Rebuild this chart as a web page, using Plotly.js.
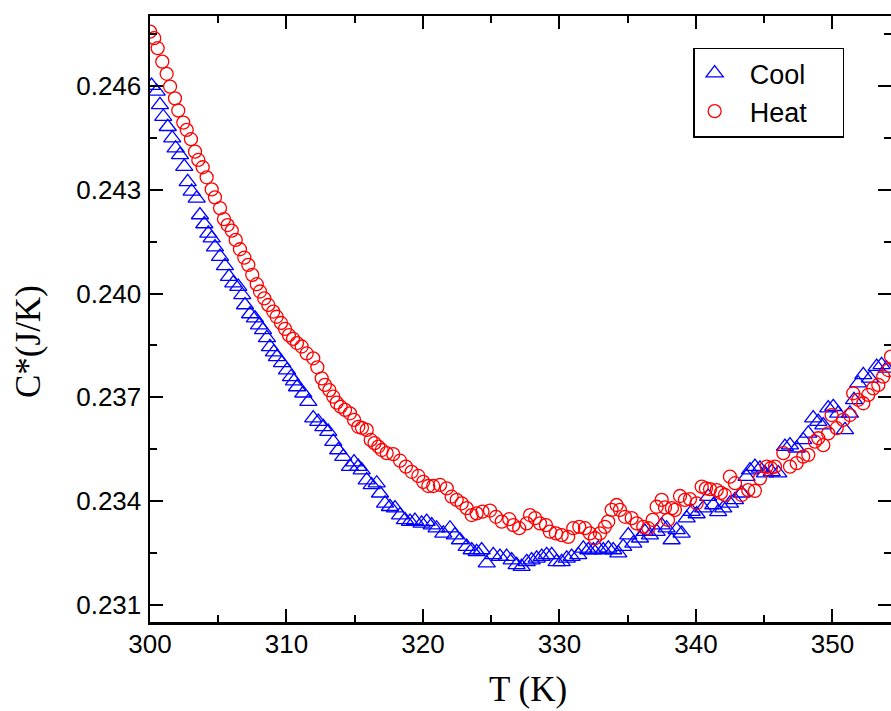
<!DOCTYPE html>
<html>
<head>
<meta charset="utf-8">
<script src="https://cdn.plot.ly/plotly-3.0.1.min.js"></script>
<style>html,body{margin:0;padding:0;background:#fff;}#chart{width:891px;height:711px;}</style>
</head>
<body>
<div id="chart"></div>
<script>
const coolT = [300.12,300.49,300.73,300.97,301.30,301.63,301.88,302.20,302.51,302.76,303.05,303.42,303.66,303.98,304.27,304.52,304.76,305.13,305.49,305.79,306.10,306.47,306.76,306.96,307.33,307.69,307.99,308.28,308.57,308.79,309.08,309.30,309.67,310.04,310.33,310.55,310.77,311.23,311.60,311.96,312.33,312.70,313.06,313.43,313.79,314.16,314.65,314.95,315.26,315.51,315.88,316.24,316.61,316.85,317.22,317.58,317.95,318.32,318.68,319.05,319.41,319.90,320.27,320.64,321.00,321.49,321.98,322.34,322.71,323.20,323.57,323.93,324.30,324.67,325.15,325.64,326.13,326.50,326.86,327.23,327.60,327.96,328.33,328.70,329.06,329.43,329.79,330.16,330.53,330.89,331.38,331.75,332.11,332.48,332.84,333.21,333.58,333.94,334.31,334.67,335.04,335.41,335.90,336.26,336.63,337.12,337.49,337.85,338.22,338.59,338.95,339.32,339.69,340.05,340.53,340.90,341.27,341.63,342.00,342.49,342.86,343.35,343.71,343.96,344.32,344.69,345.05,345.55,346.03,346.52,346.89,347.38,347.86,348.23,348.59,348.96,349.33,349.69,350.06,350.42,350.92,351.28,351.58,351.89,352.26,352.75,353.24,353.60,353.97];
const coolC = [0.24601,0.24584,0.24545,0.24511,0.24482,0.24449,0.24420,0.24401,0.24367,0.24323,
0.24295,0.24275,0.24227,0.24201,0.24174,0.24160,0.24134,0.24107,0.24080,0.24049,
0.24030,0.24020,0.23996,0.23967,0.23941,0.23929,0.23909,0.23895,0.23872,0.23846,
0.23831,0.23817,0.23800,0.23779,0.23759,0.23747,0.23730,0.23712,0.23688,0.23640,
0.23630,0.23615,0.23601,0.23572,0.23548,0.23529,0.23500,0.23513,0.23500,0.23490,
0.23461,0.23447,0.23452,0.23423,0.23394,0.23384,0.23380,0.23360,0.23346,0.23341,
0.23344,0.23336,0.23341,0.23331,0.23322,0.23307,0.23322,0.23302,0.23288,0.23269,
0.23259,0.23254,0.23259,0.23221,0.23245,0.23240,0.23240,0.23230,0.23216,0.23211,
0.23225,0.23230,0.23235,0.23240,0.23245,0.23245,0.23225,0.23225,0.23235,0.23240,
0.23245,0.23264,0.23259,0.23259,0.23264,0.23259,0.23264,0.23259,0.23250,0.23269,
0.23302,0.23278,0.23293,0.23312,0.23302,0.23312,0.23331,0.23322,0.23288,0.23317,
0.23307,0.23351,0.23370,0.23363,0.23380,0.23413,0.23389,0.23369,0.23380,0.23394,
0.23404,0.23423,0.23471,0.23490,0.23500,0.23495,0.23481,0.23485,0.23481,0.23558,
0.23562,0.23553,0.23577,0.23596,0.23640,0.23630,0.23620,0.23669,0.23673,0.23654,
0.23606,0.23654,0.23693,0.23741,0.23765,0.23755,0.23789,0.23794,0.23784];

const heatT = [300.00,300.31,300.56,300.90,301.22,301.47,301.83,302.07,302.44,302.69,303.00,303.30,303.54,303.86,304.15,304.52,304.76,305.13,305.42,305.69,305.99,306.28,306.59,306.91,307.20,307.49,307.82,308.06,308.37,308.67,309.03,309.28,309.60,309.89,310.18,310.48,310.77,311.11,311.48,311.96,312.26,312.58,312.82,313.14,313.43,313.68,313.97,314.29,314.65,314.95,315.26,315.53,315.88,316.17,316.45,316.73,316.98,317.34,317.82,318.32,318.75,319.17,319.66,320.02,320.39,320.75,321.25,321.74,322.10,322.47,322.84,323.20,323.57,323.93,324.36,324.91,325.35,325.77,326.32,326.62,327.05,327.60,327.84,328.21,328.57,329.01,329.30,329.74,330.16,330.64,331.01,331.45,331.87,332.23,332.60,332.97,333.33,333.57,333.82,334.19,334.43,334.80,335.29,335.66,336.14,336.51,336.83,337.12,337.49,337.73,337.95,338.24,338.46,338.83,339.19,339.56,340.05,340.42,340.73,341.03,341.52,341.83,342.12,342.49,342.86,343.35,343.83,344.32,344.69,345.18,345.49,345.79,346.40,346.89,347.38,347.86,348.23,348.72,348.96,349.33,349.69,349.94,350.31,350.79,351.28,351.52,351.89,352.26,352.62,352.99,353.36,353.72,354.09,354.29];
const heatC = [0.24757,0.24738,0.24709,0.24670,0.24635,0.24598,0.24564,0.24529,0.24494,0.24473,
0.24446,0.24410,0.24386,0.24365,0.24336,0.24301,0.24278,0.24247,0.24215,0.24198,
0.24182,0.24155,0.24128,0.24104,0.24083,0.24054,0.24027,0.24006,0.23986,0.23967,
0.23948,0.23933,0.23915,0.23898,0.23880,0.23869,0.23857,0.23847,0.23827,0.23813,
0.23787,0.23755,0.23736,0.23721,0.23702,0.23685,0.23673,0.23664,0.23654,0.23635,
0.23615,0.23612,0.23606,0.23577,0.23568,0.23558,0.23548,0.23539,0.23536,0.23517,
0.23500,0.23485,0.23473,0.23456,0.23444,0.23444,0.23447,0.23437,0.23413,0.23404,
0.23394,0.23380,0.23360,0.23365,0.23370,0.23373,0.23355,0.23341,0.23348,0.23331,
0.23322,0.23336,0.23360,0.23351,0.23336,0.23331,0.23312,0.23307,0.23302,0.23297,
0.23322,0.23326,0.23322,0.23307,0.23293,0.23307,0.23326,0.23341,0.23375,0.23389,
0.23375,0.23355,0.23351,0.23336,0.23326,0.23322,0.23346,0.23384,0.23404,0.23382,
0.23346,0.23380,0.23375,0.23415,0.23404,0.23406,0.23394,0.23442,0.23437,0.23435,
0.23432,0.23424,0.23418,0.23471,0.23452,0.23418,0.23432,0.23430,0.23466,0.23500,
0.23496,0.23500,0.23539,0.23500,0.23510,0.23529,0.23534,0.23572,0.23582,0.23562,
0.23596,0.23649,0.23611,0.23635,0.23649,0.23712,0.23693,0.23683,0.23707,0.23726,
0.23736,0.23760,0.23779,0.23818];

const seriesNames = ['Cool', 'Heat'];
const xTickVals = [300, 310, 320, 330, 340, 350];
const yTickVals = [0.231, 0.234, 0.237, 0.240, 0.243, 0.246];
const xTitle = 'T (K)';
const yTitle = 'C*(J/K)';

const nb = n => '\u00a0'.repeat(n);
const traces = [
  {x: coolT, y: coolC, name: nb(2) + seriesNames[0] + nb(4), type: 'scatter', mode: 'markers',
   marker: {symbol: 'triangle-up-open', size: 15, color: '#0000ff', line: {width: 1.3, color: '#0000ff'}}},
  {x: heatT, y: heatC, name: nb(2) + seriesNames[1] + nb(4), type: 'scatter', mode: 'markers',
   marker: {symbol: 'circle-open', size: 13, color: '#ff0000', line: {width: 1.3, color: '#ff0000'}}}
];

const tickFont = {family: '"Liberation Sans", Arial, sans-serif', size: 26, color: '#000'};
const titleFont = {family: '"Liberation Serif", "Times New Roman", serif', size: 35, color: '#000'};

const layout = {
  width: 891, height: 711,
  margin: {l: 150, r: 0, t: 16, b: 89, pad: 0},
  paper_bgcolor: '#fff', plot_bgcolor: '#fff',
  showlegend: true,
  legend: {x: 0.733, y: 0.948, xanchor: 'left', yanchor: 'top',
    bordercolor: '#000', borderwidth: 1.5, bgcolor: 'rgba(255,255,255,0)',
    font: {family: '"Liberation Sans", Arial, sans-serif', size: 27, color: '#000'}},
  xaxis: {
    range: [300, 354.29], tickmode: 'array', tickvals: xTickVals, ticktext: xTickVals.map(String),
    ticks: 'inside', ticklen: 13, tickwidth: 2, tickcolor: '#000',
    minor: {dtick: 5, tick0: 300, ticks: 'inside', ticklen: 7, tickwidth: 2, tickcolor: '#000'},
    showline: true, linewidth: 2.5, linecolor: '#000', mirror: 'ticks',
    showgrid: false, zeroline: false, tickfont: tickFont, ticklabelstandoff: -3
  },
  yaxis: {
    range: [0.23051, 0.24802], tickmode: 'array', tickvals: yTickVals, ticktext: yTickVals.map(v => v.toFixed(3)),
    ticks: 'inside', ticklen: 13, tickwidth: 2, tickcolor: '#000',
    minor: {dtick: 0.0015, tick0: 0.231, ticks: 'inside', ticklen: 7, tickwidth: 2, tickcolor: '#000'},
    showline: true, linewidth: 2.5, linecolor: '#000', mirror: 'ticks',
    showgrid: false, zeroline: false, tickfont: tickFont, ticklabelstandoff: 1
  },
  annotations: [
    {text: xTitle, xref: 'paper', yref: 'paper', x: 0.5101, y: -0.1122, xanchor: 'center', yanchor: 'middle',
     showarrow: false, font: titleFont},
    {text: yTitle, xref: 'paper', yref: 'paper', x: -0.1633, y: 0.4637, xanchor: 'center', yanchor: 'middle',
     textangle: -90, showarrow: false, font: titleFont}
  ]
};

Plotly.newPlot('chart', traces, layout, {displayModeBar: false, staticPlot: true});
</script>
</body>
</html>
